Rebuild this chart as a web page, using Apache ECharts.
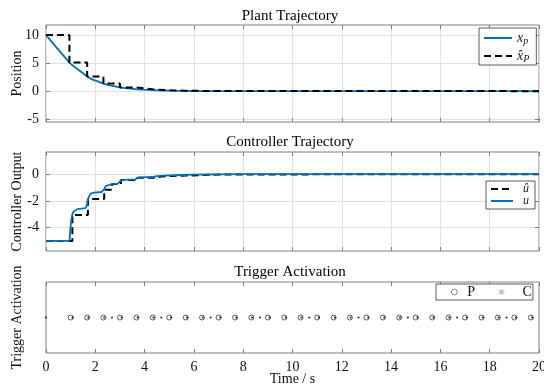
<!DOCTYPE html>
<html><head><meta charset="utf-8">
<script src="https://cdn.jsdelivr.net/npm/echarts@6/dist/echarts.min.js"></script>
<style>html,body{margin:0;padding:0;background:#fff}#c{width:544px;height:387px}</style>
</head><body><div id="c"></div>
<script>
// ---- data ----
const xTicks = [0, 2, 4, 6, 8, 10, 12, 14, 16, 18, 20];
const posTicks = [-5, 0, 5, 10];
const ctrlTicks = [-4, -2, 0];

const plantT = [0, 0.5, 0.95, 1.05, 1.15, 1.3, 1.5, 1.67, 1.8, 1.95, 2.1, 2.33, 2.5, 2.7, 3.0, 3.2, 3.45, 3.67, 3.9, 4.33, 4.7, 5.0, 5.5, 6.0, 6.5, 7.0, 8.0, 9.0, 10, 12, 14, 16, 18, 20];
const plantX = [10, 7.4, 5.1, 4.7, 4.35, 3.85, 3.2, 2.6, 2.25, 1.98, 1.74, 1.35, 1.13, 0.95, 0.66, 0.55, 0.44, 0.33, 0.27, 0.17, 0.12, 0.085, 0.05, 0.03, 0.02, 0.012, 0.005, 0.002, 0.001, 0, 0, 0, 0, 0];

const plantHatT = [0, 0.95, 1.67, 2.33, 3.0, 3.67, 4.33, 5.0, 5.67, 6.33, 7.0, 7.67, 20];
const plantHatX = [10, 5.1, 2.6, 1.35, 0.66, 0.33, 0.17, 0.085, 0.045, 0.022, 0.012, 0.006, 0.006];

const ctrlT = [0, 0.95, 0.98, 1.02, 1.07, 1.11, 1.17, 1.27, 1.45, 1.6, 1.65, 1.7, 1.76, 1.83, 1.95, 2.25, 2.3, 2.36, 2.42, 2.5, 2.7, 2.92, 2.98, 3.04, 3.12, 3.3, 3.62, 3.7, 3.76, 3.85, 4.1, 4.3, 4.38, 4.5, 4.8, 5.0, 5.5, 6.0, 6.5, 7.0, 8, 10, 20];
const ctrlU = [-5, -5, -4.3, -3.5, -3.0, -2.82, -2.7, -2.62, -2.58, -2.55, -2.35, -1.9, -1.62, -1.45, -1.38, -1.34, -1.25, -1.15, -0.9, -0.79, -0.74, -0.72, -0.6, -0.47, -0.43, -0.41, -0.39, -0.3, -0.27, -0.25, -0.23, -0.22, -0.18, -0.15, -0.12, -0.1, -0.07, -0.045, -0.03, -0.02, -0.008, -0.002, 0];

const ctrlHatT = [0, 1.07, 1.7, 2.36, 2.68, 3.04, 3.7, 4.36, 4.68, 5.04, 5.7, 6.36, 6.68, 7.04, 7.7, 20];
const ctrlHatU = [-5, -3.05, -1.87, -1.17, -0.74, -0.45, -0.27, -0.18, -0.15, -0.11, -0.07, -0.045, -0.035, -0.025, -0.015, -0.015];

const trigP = [1.0, 1.67, 2.33, 3.0, 3.67, 4.33, 5.0, 5.67, 6.33, 7.0, 7.67, 8.33, 9.0, 9.67, 10.33, 11.0, 11.67, 12.33, 13.0, 13.67, 14.33, 15.0, 15.67, 16.33, 17.0, 17.67, 18.33, 19.0, 19.67];
const trigC = [0, 1.08, 1.72, 2.36, 2.68, 3.07, 3.72, 4.36, 4.68, 5.07, 5.72, 6.36, 6.68, 7.07, 7.72, 8.36, 8.68, 9.07, 9.72, 10.36, 10.68, 11.07, 11.72, 12.36, 12.68, 13.07, 13.72, 14.36, 14.68, 15.07, 15.72, 16.36, 16.68, 17.07, 17.72, 18.36, 18.68, 19.07, 19.72];

// ---- styling helpers ----
const FONT = 'Liberation Serif';
const AX = '#808080';
const GRIDC = '#e1e1e1';
const pairs = (a, b) => a.map((t, i) => [t, b[i]]);

const grids = [
  {left: 46, right: 5, top: 25, height: 97},
  {left: 46, right: 5, top: 152, height: 99},
  {left: 46, right: 5, top: 282, height: 71}
].map(g => Object.assign(g, {show: true, borderColor: AX, borderWidth: 1, containLabel: false, outerBoundsMode: 'none'}));

function xAxisBottom(gi, labels, split) {
  return {
    type: 'value', gridIndex: gi, position: 'bottom', min: 0, max: 20, interval: 2,
    axisLine: {show: false, onZero: false},
    axisTick: {show: true, inside: true, length: 4, lineStyle: {color: AX}},
    axisLabel: {show: labels, margin: 7, color: '#111', fontFamily: FONT, fontSize: 14},
    splitLine: {show: split, lineStyle: {color: GRIDC, width: 1}},
    name: labels ? 'Time / s' : '', nameLocation: 'middle', nameGap: 19, nameMoveOverlap: false,
    nameTextStyle: {fontFamily: FONT, fontSize: 14, color: '#111'}
  };
}
function xAxisTop(gi) {
  return {
    type: 'value', gridIndex: gi, position: 'top', min: 0, max: 20, interval: 2,
    axisLine: {show: false, onZero: false},
    axisTick: {show: true, inside: true, length: 4, lineStyle: {color: AX}},
    axisLabel: {show: false}, splitLine: {show: false}
  };
}
function yAxisLeft(gi, min, max, ticks, name) {
  const a = {
    type: 'value', gridIndex: gi, position: 'left', min: min, max: max,
    axisLine: {show: false, onZero: false},
    name: name, nameLocation: 'middle', nameGap: 22, nameRotate: 90, nameMoveOverlap: false,
    nameTextStyle: {fontFamily: FONT, fontSize: 14, color: '#111'}
  };
  if (ticks) {
    a.axisTick = {show: true, inside: true, length: 4, lineStyle: {color: AX}, customValues: ticks};
    a.axisLabel = {show: true, margin: 7, color: '#111', fontFamily: FONT, fontSize: 14, customValues: ticks};
    a.splitLine = {show: true, lineStyle: {color: GRIDC, width: 1}};
  } else {
    a.axisTick = {show: false};
    a.axisLabel = {show: false};
    a.splitLine = {show: false};
  }
  return a;
}
function yAxisRight(gi, min, max, ticks) {
  return {
    type: 'value', gridIndex: gi, position: 'right', min: min, max: max,
    axisLine: {show: false, onZero: false},
    axisTick: {show: !!ticks, inside: true, length: 4, lineStyle: {color: AX}, customValues: ticks || undefined},
    axisLabel: {show: false}, splitLine: {show: false}
  };
}

const titleStyle = {fontFamily: FONT, fontSize: 15, fontWeight: 'normal', color: '#000'};
const richLeg = {
  m: {fontFamily: FONT, fontStyle: 'italic', fontSize: 14, color: '#222', lineHeight: 16},
  s: {fontFamily: FONT, fontStyle: 'italic', fontSize: 10, color: '#222', lineHeight: 16, padding: [6, 0, 0, 0]}
};
const richLeg2 = {
  m: {fontFamily: FONT, fontStyle: 'italic', fontSize: 12, color: '#222', lineHeight: 12, padding: [0, 0, 0, 5]}
};

const option = {
  animation: false,
  backgroundColor: '#fff',
  title: [
    {text: 'Plant Trajectory', left: 285, top: 4, textAlign: 'center', textStyle: titleStyle},
    {text: 'Controller Trajectory', left: 285, top: 130, textAlign: 'center', textStyle: titleStyle},
    {text: 'Trigger Activation', left: 285, top: 260, textAlign: 'center', textStyle: titleStyle}
  ],
  grid: grids,
  xAxis: [xAxisBottom(0, false, true), xAxisTop(0), xAxisBottom(1, false, true), xAxisTop(1), xAxisBottom(2, true, false), xAxisTop(2)],
  yAxis: [
    yAxisLeft(0, -5.5, 11.8, posTicks, 'Position'), yAxisRight(0, -5.5, 11.8, posTicks),
    yAxisLeft(1, -5.75, 1.65, ctrlTicks, 'Controller Output'), yAxisRight(1, -5.75, 1.65, ctrlTicks),
    yAxisLeft(2, -1, 1, null, 'Trigger Activation'), yAxisRight(2, -1, 1, null)
  ],
  legend: [
    {
      data: ['xp', 'xhatP'], orient: 'vertical', left: 479, top: 28,
      itemWidth: 28, itemHeight: 14, itemGap: 2, padding: [2, 7, 1, 4],
      borderColor: '#333', borderWidth: 0.8, backgroundColor: '#fff',
      itemStyle: {opacity: 0},
      formatter: n => n === 'xp' ? '{m|x}{s|p}' : '{m|x\u0302}{s|P}',
      textStyle: {rich: richLeg}
    },
    {
      data: ['uhat', 'u'], orient: 'vertical', left: 486, top: 181,
      itemWidth: 22, itemHeight: 12, itemGap: 0, padding: [2, 6, 2, 4],
      borderColor: '#333', borderWidth: 0.8, backgroundColor: '#fff',
      itemStyle: {opacity: 0},
      formatter: n => n === 'u' ? '{m|u}' : '{m|\u00fb}',
      textStyle: {rich: richLeg2}
    },
    {
      data: [
        {name: 'P', itemStyle: {color: 'rgba(255,255,255,0)', borderColor: '#000', borderWidth: 0.6}, textStyle: {padding: [0, 0, 0, 1]}},
        {name: 'C', itemStyle: {color: '#000', borderColor: '#fff', borderWidth: 5}, textStyle: {padding: [0, 0, 0, 9]}}
      ],
      orient: 'horizontal', left: 436, top: 284,
      itemWidth: 14, itemHeight: 6, itemGap: 21, padding: [1, 1, 1, 15],
      borderColor: '#333', borderWidth: 0.8, backgroundColor: '#fff',
      textStyle: {fontFamily: FONT, fontSize: 14, color: '#111'}
    }
  ],
  series: [
    {name: 'xp', type: 'line', xAxisIndex: 0, yAxisIndex: 0, data: pairs(plantT, plantX),
      showSymbol: false, symbol: 'none', lineStyle: {color: '#0072BD', width: 1.8}, itemStyle: {color: '#0072BD'}},
    {name: 'xhatP', type: 'line', step: 'end', xAxisIndex: 0, yAxisIndex: 0, data: pairs(plantHatT, plantHatX),
      showSymbol: false, symbol: 'none', lineStyle: {color: '#000', width: 2, type: [7, 4]}, itemStyle: {color: '#000'}},
    {name: 'uhat', type: 'line', step: 'end', xAxisIndex: 2, yAxisIndex: 2, data: pairs(ctrlHatT, ctrlHatU),
      showSymbol: false, symbol: 'none', lineStyle: {color: '#000', width: 2, type: [7, 4]}, itemStyle: {color: '#000'}},
    {name: 'u', type: 'line', xAxisIndex: 2, yAxisIndex: 2, data: pairs(ctrlT, ctrlU),
      showSymbol: false, symbol: 'none', lineStyle: {color: '#0072BD', width: 1.8}, itemStyle: {color: '#0072BD'}},
    {name: 'P', type: 'scatter', xAxisIndex: 4, yAxisIndex: 4, data: trigP.map(t => [t, 0]),
      symbol: 'circle', symbolSize: 5, itemStyle: {color: 'rgba(255,255,255,0)', borderColor: '#000', borderWidth: 0.8}},
    {name: 'C', type: 'scatter', xAxisIndex: 4, yAxisIndex: 4, data: trigC.map(t => [t, 0]),
      symbol: 'circle', symbolSize: 2.2, itemStyle: {color: '#000'}}
  ]
};

const chart = echarts.init(document.getElementById('c'), null, {renderer: 'canvas'});
chart.setOption(option);
</script>
</body></html>
